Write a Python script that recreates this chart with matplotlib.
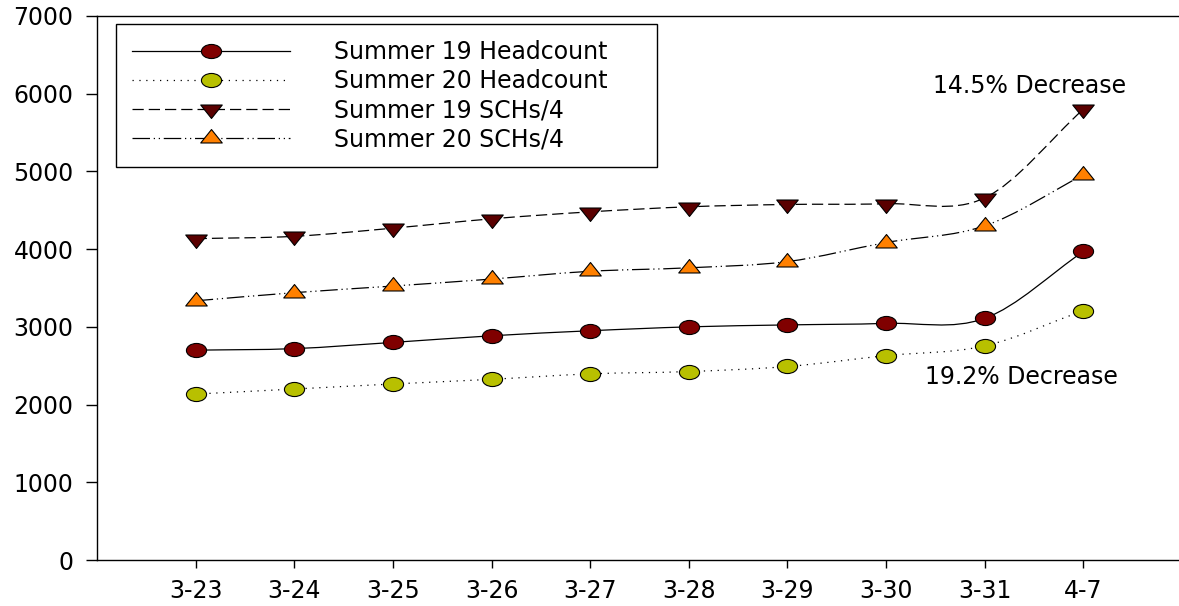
import numpy as np
import matplotlib
matplotlib.use('Agg')
from matplotlib import pyplot as plt
from matplotlib.path import Path
from matplotlib.patches import PathPatch
from matplotlib.lines import Line2D
from matplotlib.transforms import Affine2D

plt.rcParams['font.family'] = ['DejaVu Sans']

dates = ['3-23', '3-24', '3-25', '3-26', '3-27', '3-28', '3-29', '3-30', '3-31', '4-7']
headcount19 = [2700, 2720, 2800, 2885, 2950, 3000, 3025, 3045, 3110, 3970]
headcount20 = [2135, 2200, 2265, 2325, 2395, 2425, 2490, 2630, 2755, 3210]
schs19 = [4135, 4165, 4270, 4390, 4480, 4545, 4575, 4585, 4660, 5800]
schs20 = [3335, 3440, 3525, 3615, 3715, 3760, 3840, 4085, 4300, 4955]

labels = ['Summer 19 Headcount', 'Summer 20 Headcount', 'Summer 19 SCHs/4', 'Summer 20 SCHs/4']
notes = ['14.5% Decrease', '19.2% Decrease']

# marker shapes: squashed circle and flat triangles (centroid at origin)
ellipse = Path.unit_circle().transformed(Affine2D().scale(1.0, 0.7))
tri_down = Path([(-1, 0.4167), (1, 0.4167), (0, -0.8333), (-1, 0.4167)],
                [Path.MOVETO, Path.LINETO, Path.LINETO, Path.CLOSEPOLY])
tri_up = Path([(-1, -0.4167), (1, -0.4167), (0, 0.8333), (-1, -0.4167)],
              [Path.MOVETO, Path.LINETO, Path.LINETO, Path.CLOSEPOLY])

styles = [
    dict(marker=ellipse, color='#800000', ms=14.5, ls='-'),
    dict(marker=ellipse, color='#b8c000', ms=14.5, ls=(0, (1, 4.5))),
    dict(marker=tri_down, color='#5a0000', ms=15.5, ls=(0, (9, 4))),
    dict(marker=tri_up, color='#ff8000', ms=15.5, ls=(0, (14, 3, 1, 3, 1, 3))),
]


'''
    smooth curve through the points, drawn as cubic bezier segments
'''
def smoothpath(x, y):
    x = np.asarray(x, dtype=float)
    y = np.asarray(y, dtype=float)
    n = len(x)
    dy = np.zeros(n)
    dy[1:-1] = (y[2:] - y[:-2]) / (x[2:] - x[:-2])
    dy[0] = (y[1] - y[0]) / (x[1] - x[0])
    dy[-1] = (y[-1] - y[-2]) / (x[-1] - x[-2])
    verts = [(x[0], y[0])]
    codes = [Path.MOVETO]
    for i in range(n - 1):
        h = (x[i + 1] - x[i]) / 3.0
        verts += [(x[i] + h, y[i] + dy[i] * h),
                  (x[i + 1] - h, y[i + 1] - dy[i + 1] * h),
                  (x[i + 1], y[i + 1])]
        codes += [Path.CURVE4] * 3
    return Path(verts, codes)


fig = plt.figure(figsize=(11.79, 6.06), dpi=100)
ax = fig.add_axes([0.0823, 0.0759, 0.9177, 0.8977])

xpos = np.arange(len(dates))
series = [headcount19, headcount20, schs19, schs20]
handles = []
for vals, st, lab in zip(series, styles, labels):
    ax.add_patch(PathPatch(smoothpath(xpos, vals), fill=False, edgecolor='black',
                           lw=0.9, linestyle=st['ls'], zorder=2))
    ax.plot(xpos, vals, ls='none', marker=st['marker'], ms=st['ms'],
            mfc=st['color'], mec='black', mew=0.8, zorder=3)
    handles.append(Line2D([], [], color='black', lw=0.9, linestyle=st['ls'],
                          marker=st['marker'], ms=st['ms'], mfc=st['color'],
                          mec='black', mew=0.8))

ax.text(8.45, 6100, notes[0], fontsize=17, ha='center', va='center')
ax.text(8.37, 2360, notes[1], fontsize=17, ha='center', va='center')

ax.set_xlim(-1, 9.97)
ax.set_ylim(0, 7000)
ax.set_yticks(range(0, 7001, 1000))
ax.set_xticks(xpos)
ax.set_xticklabels(dates)
ax.spines['right'].set_visible(False)
for s in ['left', 'top', 'bottom']:
    ax.spines[s].set_linewidth(1.0)
ax.tick_params(axis='y', direction='out', length=8, width=1, pad=9, labelsize=17)
ax.tick_params(axis='x', direction='out', length=6, width=1, pad=8, labelsize=17)

leg = ax.legend(handles, labels, loc='upper left', bbox_to_anchor=(0.0176, 0.0, 0.5, 0.985),
                mode='expand', borderaxespad=0, fontsize=17, handlelength=6.7,
                handletextpad=1.85, borderpad=0.68, labelspacing=0.21,
                fancybox=False, framealpha=1, edgecolor='black')
leg.get_frame().set_linewidth(1.0)

fig.savefig('out.png', dpi=100)
